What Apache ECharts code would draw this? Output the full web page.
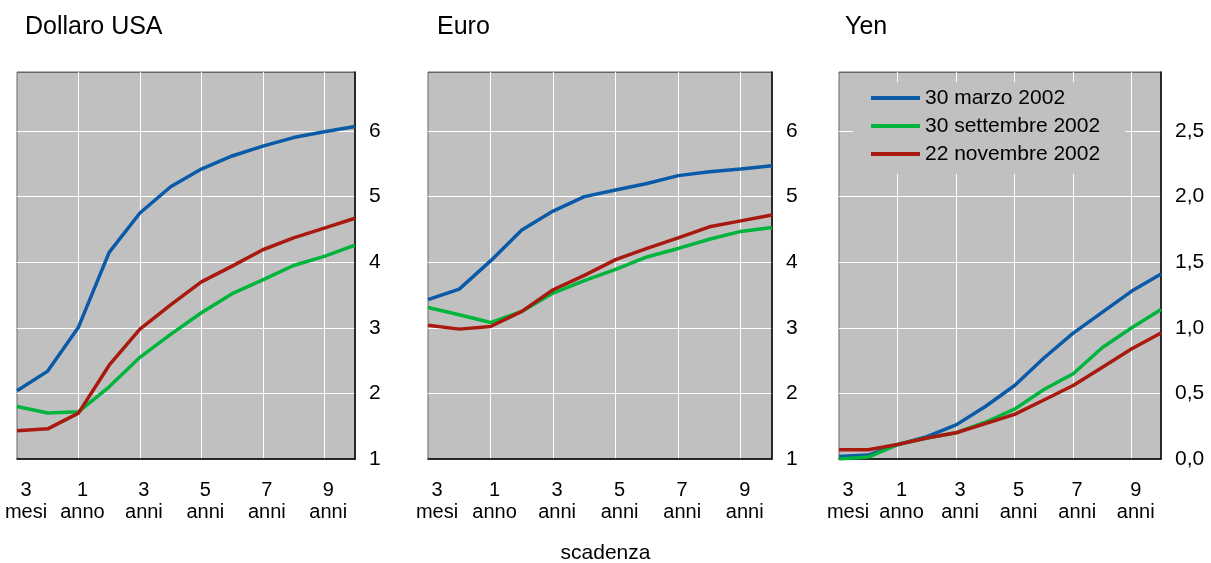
<!DOCTYPE html>
<html>
<head>
<meta charset="utf-8">
<script src="https://cdn.jsdelivr.net/npm/echarts@6/dist/echarts.min.js"></script>
<style>html,body{margin:0;padding:0;background:#fff}#c{width:1211px;height:563px}</style>
</head>
<body>
<div id="c"></div>
<script>
const categories = ['3\nmesi','6\nmesi','1\nanno','2\nanni','3\nanni','4\nanni','5\nanni','6\nanni','7\nanni','8\nanni','9\nanni','10\nanni'];
const seriesNames = ['30 marzo 2002','30 settembre 2002','22 novembre 2002'];
const panelTitles = ['Dollaro USA','Euro','Yen'];
const usdMar = [2.04,2.34,3.01,4.15,4.75,5.15,5.42,5.62,5.77,5.90,5.99,6.07];
const usdSep = [1.80,1.70,1.72,2.10,2.55,2.90,3.23,3.52,3.73,3.95,4.09,4.26];
const usdNov = [1.43,1.46,1.70,2.43,2.98,3.35,3.70,3.94,4.19,4.37,4.52,4.67];
const eurMar = [3.43,3.59,4.02,4.49,4.78,5.00,5.10,5.20,5.32,5.38,5.42,5.47];
const eurSep = [3.31,3.20,3.08,3.25,3.53,3.72,3.89,4.08,4.21,4.35,4.47,4.53];
const eurNov = [3.04,2.98,3.02,3.25,3.58,3.80,4.04,4.21,4.37,4.54,4.63,4.72];
const jpyMar = [0.02,0.03,0.11,0.17,0.26,0.40,0.56,0.77,0.96,1.12,1.28,1.41];
const jpySep = [0.00,0.015,0.11,0.16,0.20,0.28,0.38,0.53,0.65,0.85,1.00,1.14];
const jpyNov = [0.07,0.07,0.11,0.16,0.20,0.27,0.34,0.45,0.56,0.70,0.84,0.96];
const yTicks = [{min:1,max:6.9,interval:1},{min:1,max:6.9,interval:1},{min:0,max:2.95,interval:0.5}];

const colors = ['#0b5aa8','#00b43c','#a81a10'];
const FONT = "'Liberation Sans', Arial, sans-serif";
const grids = [
  {left:17, top:72, width:338, height:387},
  {left:428, top:72, width:344, height:387},
  {left:839, top:72, width:322, height:387}
];
const panelData = [[usdMar,usdSep,usdNov],[eurMar,eurSep,eurNov],[jpyMar,jpySep,jpyNov]];
const titleLefts = [25, 437, 845];
const lblStyle = {fontFamily:FONT, fontSize:20, lineHeight:22, color:'#000'};

const option = {
  animation:false,
  backgroundColor:'#fff',
  textStyle:{fontFamily:FONT},
  title: panelTitles.map((t,i)=>({text:t,left:titleLefts[i],top:15,padding:0,textStyle:{fontFamily:FONT,fontSize:25,fontWeight:'normal',color:'#000'}}))
    .concat([{text:'scadenza',left:'center',top:538,textStyle:{fontFamily:FONT,fontSize:21,fontWeight:'normal',color:'#000'}}]),
  grid: grids.map(g=>Object.assign({show:true,containLabel:false,outerBoundsMode:'none',backgroundColor:'#c0c0c0',borderColor:'#666',borderWidth:1},g)),
  legend:{
    data:seriesNames, orient:'vertical', left:853, top:82,
    backgroundColor:'#c0c0c0', padding:[5,25,9,18], itemGap:6,
    itemWidth:49, itemHeight:4, icon:'rect',
    textStyle:{fontFamily:FONT,fontSize:21,color:'#000',lineHeight:22}
  },
  xAxis: grids.map((g,i)=>({
    type:'category', gridIndex:i, data:categories, boundaryGap:false,
    axisLine:{show:true,lineStyle:{color:'#000',width:1.5}},
    axisTick:{show:false},
    axisLabel:{interval:(idx)=>idx%2===0, fontFamily:FONT, fontSize:20, lineHeight:22, color:'#000', margin:20,
      formatter:(v,idx)=>v.split('\n').map(s=>(idx===0?'{a|':'{b|')+s+'}').join('\n'),
      rich:{a:Object.assign({padding:[0,0,0,18]},lblStyle), b:Object.assign({padding:[0,0,0,8]},lblStyle)}},
    splitLine:{show:true, interval:(idx)=>idx%2===0 && idx>0 && idx<categories.length-1, lineStyle:{color:'#fff',width:1}}
  })),
  yAxis: grids.map((g,i)=>({
    type:'value', gridIndex:i, position:'right',
    min:yTicks[i].min, max:yTicks[i].max, interval:yTicks[i].interval,
    axisLine:{show:true,lineStyle:{color:'#000',width:1.5}},
    axisTick:{show:false},
    axisLabel:{showMaxLabel:false, fontFamily:FONT, fontSize:21, color:'#000', margin:14,
      formatter:(v)=> i===2 ? v.toFixed(1).replace('.',',') : String(v)},
    splitLine:{show:true,lineStyle:{color:['rgba(0,0,0,0)','#fff','#fff','#fff','#fff','#fff','#666'],width:1}}
  })),
  series: []
};
panelData.forEach((arrs,p)=>{
  arrs.forEach((d,s)=>{
    option.series.push({
      type:'line', name:seriesNames[s], xAxisIndex:p, yAxisIndex:p, data:d,
      symbol:'none', smooth:false, color:colors[s],
      lineStyle:{width:3.5,color:colors[s]}
    });
  });
});
const chart = echarts.init(document.getElementById('c'),null,{renderer:'canvas'});
chart.setOption(option);
</script>
</body>
</html>
